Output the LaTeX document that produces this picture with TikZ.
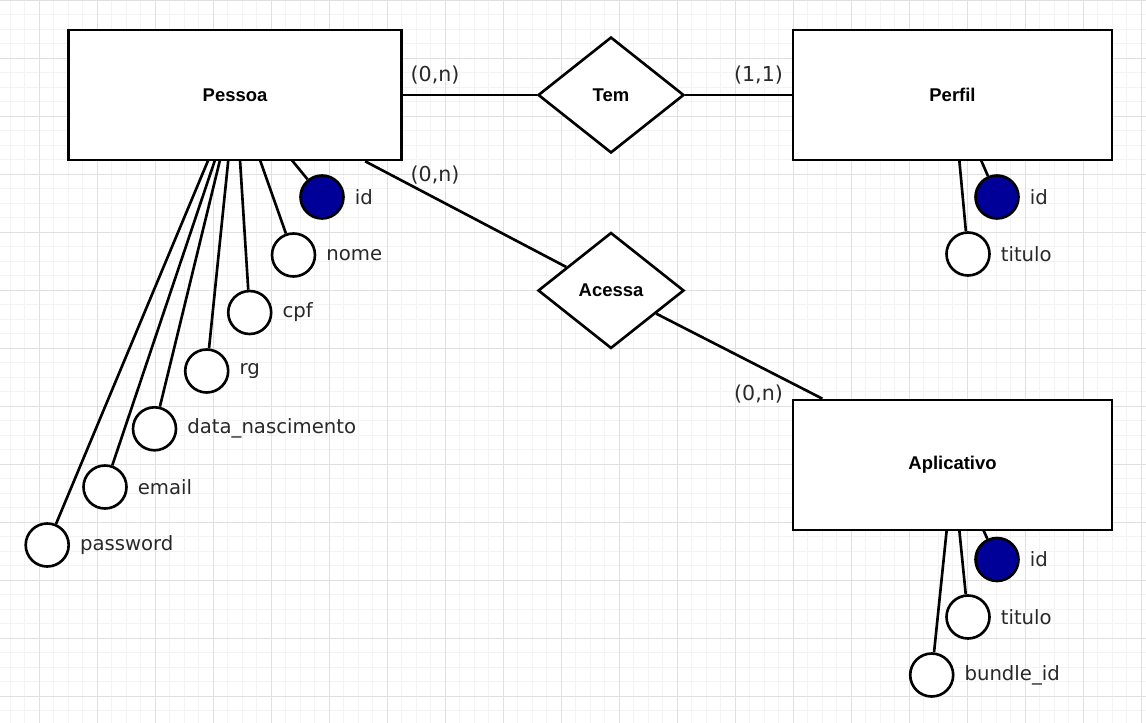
\documentclass[tikz,border=0pt]{standalone}
\usepackage{fontspec}
\setmainfont{DejaVu Sans}
\newfontfamily\entfont{Liberation Sans}
\usepackage{xcolor}
\usetikzlibrary{shapes.geometric,positioning}

\definecolor{keyblue}{RGB}{0,0,153}
\definecolor{labelgray}{RGB}{40,40,40}
\definecolor{gridminor}{RGB}{243,243,243}
\definecolor{gridmajor}{RGB}{224,224,224}

\tikzset{
  entity/.style={draw, line width=1.5pt, fill=white, minimum height=2.6cm,
    font=\entfont\bfseries\fontsize{10.5}{12}\selectfont},
  relation/.style={draw, diamond, line width=1.5pt, fill=white, inner sep=0pt,
    minimum width=2.92cm, minimum height=2.32cm,
    font=\entfont\bfseries\fontsize{10.5}{12}\selectfont},
  attr/.style={draw, circle, line width=1.5pt, minimum size=0.86cm, inner sep=0pt},
  attrtext/.style={inner sep=0pt, text=labelgray, font=\fontsize{11.2}{13}\selectfont},
  card/.style={inner sep=0pt, text=labelgray, font=\fontsize{11.7}{14}\selectfont},
  link/.style={line width=1.5pt},
}

\begin{document}
\begin{tikzpicture}[x=0.02cm, y=-0.02cm]
    \useasboundingbox (0,0) rectangle (1146,723);
    % grid
    \foreach \i in {0,...,78}
        \draw[gridminor, line width=0.5pt] (10.3+14.5*\i,0) -- (10.3+14.5*\i,723);
    \foreach \j in {0,...,49}
        \draw[gridminor, line width=0.5pt] (0,14.5*\j) -- (1146,14.5*\j);
    \foreach \i in {0,...,19}
        \draw[gridmajor, line width=0.5pt] (39.3+58*\i,0) -- (39.3+58*\i,723);
    \foreach \j in {0,...,12}
        \draw[gridmajor, line width=0.5pt] (0,58*\j) -- (1146,58*\j);

    % entities and relations
    \node[entity, minimum width=6.66cm] (pessoa) at (235,95) {Pessoa};
    \node[entity, minimum width=6.38cm] (perfil) at (952.5,95) {Perfil};
    \node[entity, minimum width=6.38cm] (aplicativo) at (952.5,465) {Aplicativo};
    \node[relation] (tem) at (611,95) {Tem};
    \node[relation] (acessa) at (611,290.5) {Acessa};

    \draw[link] (pessoa) -- (tem);
    \draw[link] (tem) -- (perfil);
    \draw[link] (acessa) -- (pessoa.-27.5);
    \draw[link] (acessa) -- (aplicativo.153);

    % cardinalities
    \node[card] (cpt) at (435,75) {(0,n)};
    \node[card] (ctp) at (758.5,75) {(1,1)};
    \node[card] (cpa) at (435,175) {(0,n)};
    \node[card] (cap) at (758.5,394) {(0,n)};

    % attributes
    \foreach \n/\t/\x/\y/\c/\ex/\ey in {
        pid/id/322/197/keyblue/291.7/160,
        pnome/nome/293.5/255/white/260/160,
        pcpf/cpf/249.7/312.5/white/240/160,
        prg/rg/206.7/371/white/228.3/160,
        pdata/data\_nascimento/154.5/428.8/white/220/160,
        pemail/email/105/487/white/215/160,
        ppass/password/47.2/545/white/208.3/160,
        fid/id/997/197/keyblue/981/160,
        ftit/titulo/968/254/white/959.3/160,
        aid/id/997/559.5/keyblue/983.3/530,
        atit/titulo/968/617/white/959.3/530,
        abun/bundle\_id/931.7/675/white/946.7/530} {
        \coordinate (\n-e) at (\ex,\ey);
        \node[attr, fill=\c] (\n) at (\x,\y) {};
        \node[attrtext, right=5.5pt of \n] (\n-t) {\t};
        \draw[link] (\n) -- (\n-e);
    }
\end{tikzpicture}
\end{document}
